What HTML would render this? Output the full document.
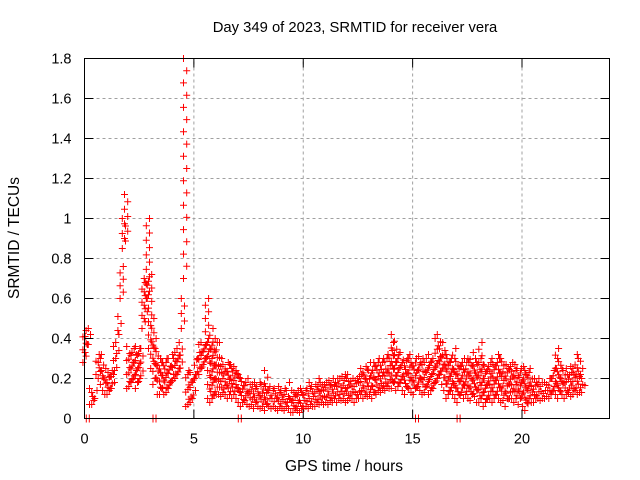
<!DOCTYPE html>
<html><head><meta charset="utf-8"><style>
html,body{margin:0;padding:0;background:#fff;}
svg{display:block;font-family:"Liberation Sans",sans-serif;}
</style></head><body>
<svg id="chart" width="640" height="480" xmlns="http://www.w3.org/2000/svg">
<rect width="640" height="480" fill="#fff"/>
<text x="355" y="32" font-size="14.8" text-anchor="middle">Day 349 of 2023, SRMTID for receiver vera</text>
<text x="344" y="471" font-size="15.5" text-anchor="middle">GPS time / hours</text>
<text transform="translate(19,238) rotate(-90)" font-size="15.5" text-anchor="middle">SRMTID / TECUs</text>
<g id="grid"></g>
<g id="marks"></g>
<rect x="84.5" y="58.5" width="525" height="360" fill="none" stroke="#000" stroke-width="1"/>
<g id="ticks"></g>
</svg>
<script>
const xTicks = [0, 5, 10, 15, 20];
const yTicks = [0, 0.2, 0.4, 0.6, 0.8, 1, 1.2, 1.4, 1.6, 1.8];
const yTickLabels = ["0", "0.2", "0.4", "0.6", "0.8", "1", "1.2", "1.4", "1.6", "1.8"];
const timeStep = 0.1;
const loVals = [.28,.33,.37, .07,.07,.09, .22,.2,.17, .14,.12,.12,.14,.15, .22,.3,.44, .6, .85, .9,
 .15,.16,.18,.2, .15,.18,.2, .45,.5, .6, .35,
 .25,.17,.2, .12,.12,.15, .12,.13,.15,.18,.19, .2,.22,.25, .45, .7,
 .06,.07,.08, .1,.2,.22, .22,.25,.27, .3, .1,.08,.1,.12,
 .12,.12,.11,.13,.12, .1,.12,.1,.12,.1, .08,.06,.08,.09,.07, .06,.07,.05,.08,.06,
 .05,.06,.04,.07,.06, .05,.06,.05,.04,.06, .05,.04,.06,.05,.03, .03,.05,.04,.03,.05,
 .05,.06,.05,.07,.06, .06,.08,.07,.08,.07, .08,.07,.09,.08,.1, .08,.1,.09,.1,.08,
 .09,.1,.1,.08,.1, .1,.12,.1,.12,.11, .12,.1,.13,.12,.14, .13,.15,.14,.16,.15,
 .15,.18,.14,.16,.18, .14,.12,.16,.15,.13, .12,.15,.16,.14,.12, .13,.16,.12,.14,.15,
 .18,.2,.22,.17,.14, .1,.12,.14,.12,.1, .08,.12,.13,.1,.12, .1,.09,.12,.11,.08,
 .08,.1,.06,.08,.1, .1,.08,.1,.12,.1, .08,.09,.06,.1,.1, .1,.08,.1,.07,.1,
 .06,.04,.08,.1,.08, .08,.1,.1,.09,.1, .1,.11,.1,.12,.14, .12,.1,.14,.12,.1,
 .12,.13,.11,.12,.14, .12,.13,.13];
const hiVals = [.44,.45,.42, .15,.13,.14, .32,.32,.3, .25,.23,.21,.24,.24, .36,.42,.51, .76, 1.0, 1.12,
 .36,.33,.35,.32, .36,.35,.35, .68,.7, 1.0, .72,
 .5,.4,.35, .3,.28,.28, .3,.28,.3,.3,.32, .33,.35,.38, .6, 1.8,
 .24,.22,.23, .22,.3,.33, .37,.38,.37, .6, .38,.45,.4,.38,
 .38,.3,.26,.27,.28, .27,.27,.25,.26,.24, .22,.2,.18,.2,.17, .17,.18,.16,.15,.17,
 .18,.16,.24,.16,.14, .15,.14,.16,.14,.13, .15,.12,.18,.14,.13, .12,.14,.15,.12,.13,
 .15,.18,.16,.15,.17, .16,.18,.2,.17,.18, .19,.17,.2,.18,.2, .2,.21,.19,.2,.22,
 .22,.2,.19,.2,.21, .22,.25,.26,.24,.28, .24,.26,.28,.3,.28, .3,.28,.32,.3,.34,
 .42,.38,.32,.3,.33, .28,.3,.32,.3,.28, .3,.31,.28,.3,.27, .28,.3,.32,.28,.3,
 .4,.42,.38,.34,.3, .32,.3,.28,.35,.3, .26,.28,.3,.28,.28, .3,.33,.3,.27,.28,
 .38,.3,.27,.26,.28, .27,.3,.28,.3,.32, .3,.27,.25,.26,.28, .27,.25,.24,.25,.26,
 .22,.24,.25,.23,.2, .18,.2,.17,.16,.18, .18,.2,.2,.24,.25, .35,.3,.24,.25,.22,
 .25,.23,.26,.25,.3, .32,.25,.2];
const gapTimes = [0.15, 3.2, 7.1, 15.2, 17.1];

const NS = "http://www.w3.org/2000/svg";
const X0 = 84.5, X1 = 609.5, Y0 = 418.5, Y1 = 58.5, XMAX = 24, YMAX = 1.8;
function xs(v){ return X0 + (X1 - X0) * v / XMAX; }
function ys(v){ return Y0 - (Y0 - Y1) * v / YMAX; }
function mk(tag, attrs, parent){ const e = document.createElementNS(NS, tag); for (const k in attrs) e.setAttribute(k, attrs[k]); parent.appendChild(e); return e; }

const grid = document.getElementById('grid');
const ticks = document.getElementById('ticks');
const marks = document.getElementById('marks');
yTicks.forEach((v, i) => {
  const y = ys(v);
  if (i > 0 && i < yTicks.length - 1) {
    const g = mk('line', {x1: X0, x2: X1, y1: y, y2: y, stroke: '#a0a0a0', 'stroke-dasharray': '3,3'}, grid);
    
    
  }
  mk('line', {x1: X0, x2: X0 + 9, y1: y, y2: y, stroke: '#000'}, ticks);
  mk('line', {x1: X1, x2: X1 - 9, y1: y, y2: y, stroke: '#000'}, ticks);
  const t = mk('text', {x: X0 - 13, y: y + 5, 'font-size': 14.5, 'text-anchor': 'end'}, ticks);
  t.textContent = yTickLabels[i];
  
  
});
xTicks.forEach(v => {
  const x = xs(v);
  if (v > 0) {
    const g = mk('line', {x1: x, x2: x, y1: Y0, y2: Y1, stroke: '#a0a0a0', 'stroke-dasharray': '3,3'}, grid);
    
    
  }
  mk('line', {x1: x, x2: x, y1: Y0, y2: Y0 - 9, stroke: '#000'}, ticks);
  mk('line', {x1: x, x2: x, y1: Y1, y2: Y1 + 9, stroke: '#000'}, ticks);
  const t = mk('text', {x: x, y: Y0 + 25, 'font-size': 14.5, 'text-anchor': 'middle'}, ticks);
  t.textContent = String(v);
  
  
});

let d = '';
function plus(x, y){ d += `M${(x-3.5).toFixed(1)},${y.toFixed(1)}h7M${x.toFixed(1)},${(y-3.5).toFixed(1)}v7`; }
for (let i = 0; i < loVals.length; i++) {
  const t = i * timeStep;
  const x = xs(t);
  const lo = loVals[i], hi = hiVals[i];
  const span = hi - lo;
  const step = span > 0.5 ? 0.06 : 0.035;
  const n = Math.max(1, Math.round(span / step));
  for (let k = 0; k <= n; k++) {
    const v = lo + span * k / n;
    plus(x + ((k % 2) ? 1.6 : -1.6), ys(v));
  }
}
gapTimes.forEach(t => {
  const x = xs(t);
  d += `M${(x-1.5).toFixed(1)},${Y0-4}v8M${(x+1.5).toFixed(1)},${Y0-4}v8`;
});
const p = mk('path', {d: d, stroke: '#ff0000', 'stroke-width': 1, fill: 'none'}, marks);


</script>
</body></html>
